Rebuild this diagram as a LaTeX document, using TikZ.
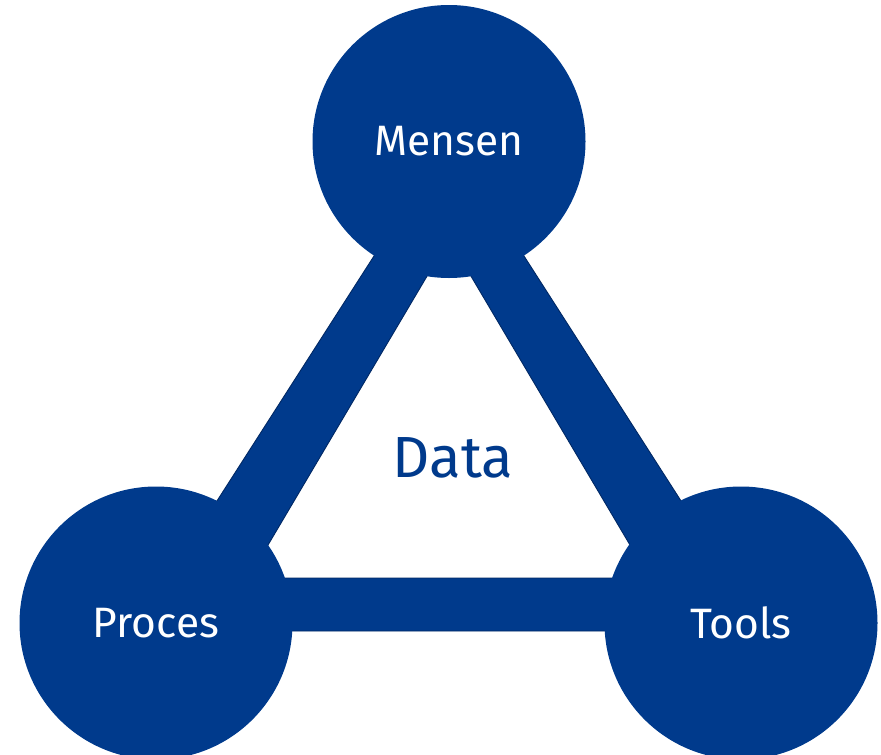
\documentclass[tikz,border=0pt]{standalone}
\usepackage{fontspec}
\setmainfont{Fira Sans}
\definecolor{nblue}{RGB}{0,58,140}
\definecolor{nedge}{RGB}{0,40,100}
\begin{document}
\begin{tikzpicture}[x=1pt,y=-1pt,
  hub/.style={circle, fill=nblue, minimum size=273pt, inner sep=0pt, text=white,
              font=\fontsize{42.5}{42.5}\selectfont},
  band/.style={fill=nblue, draw=nedge, line width=0.9pt, even odd rule},
  centerlabel/.style={text=nblue, font=\fontsize{58}{58}\selectfont, inner sep=0pt}]
\useasboundingbox (0,0) rectangle (881,755);
\path[band] (449,139) -- (133.6,631) -- (764.4,631) -- cycle
            (449,239) -- (248.5,578) -- (649.5,578) -- cycle;
\node[hub] (mensen) at (449,141.5) {Mensen};
\node[hub] (proces) at (156,623) {Proces};
\node[hub] (tools)  at (741,623) {Tools};
\node[centerlabel, anchor=base] (data) at (453,477.5) {Data};
\end{tikzpicture}
\end{document}
